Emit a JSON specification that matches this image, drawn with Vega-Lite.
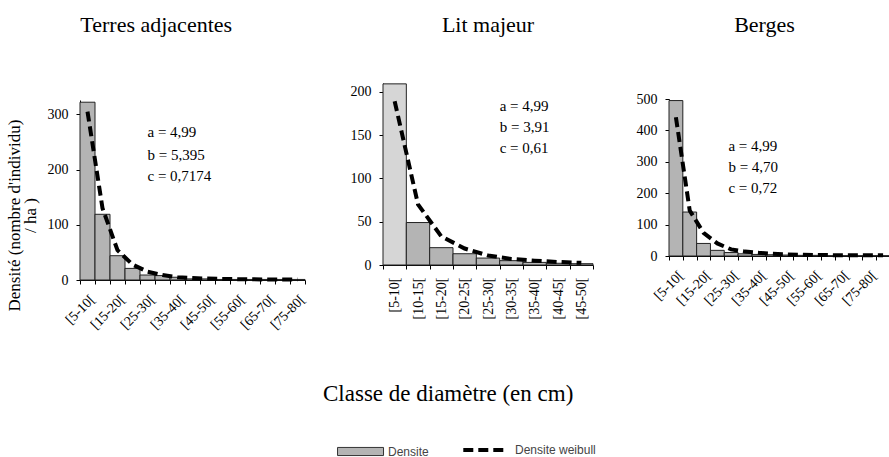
{
  "$schema": "https://vega.github.io/schema/vega-lite/v6.json",
  "background": "white",
  "padding": {"left": 5, "top": 14, "right": 0, "bottom": 0},
  "config": {
    "font": "Liberation Serif",
    "view": {"stroke": null},
    "axis": {"domainColor": "black", "tickColor": "black", "labelColor": "black", "labelFont": "Liberation Serif", "labelFontSize": 14, "grid": false, "tickSize": 4, "labelPadding": 8, "labelOverlap": false, "titleFont": "Liberation Serif", "titleFontWeight": "normal", "titleColor": "black"},
    "title": {"font": "Liberation Serif", "fontSize": 22, "fontWeight": "normal", "color": "black"},
    "legend": {"labelFont": "Liberation Sans", "labelFontSize": 12, "labelColor": "#444"}
  },
  "spacing": 42,
  "datasets": {
    "terres": [
      {"classe": "[5-10[", "densite": 322, "weibull": 305},
      {"classe": "[10-15[", "densite": 119, "weibull": 130},
      {"classe": "[15-20[", "densite": 44, "weibull": 54},
      {"classe": "[20-25[", "densite": 21, "weibull": 28},
      {"classe": "[25-30[", "densite": 9, "weibull": 15},
      {"classe": "[30-35[", "densite": 8, "weibull": 9},
      {"classe": "[35-40[", "densite": 5, "weibull": 5},
      {"classe": "[40-45[", "densite": 2, "weibull": 3.5},
      {"classe": "[45-50[", "densite": 2, "weibull": 2.5},
      {"classe": "[50-55[", "densite": 1, "weibull": 2},
      {"classe": "[55-60[", "densite": 1, "weibull": 1.5},
      {"classe": "[60-65[", "densite": 1, "weibull": 1.2},
      {"classe": "[65-70[", "densite": 1, "weibull": 1},
      {"classe": "[70-75[", "densite": 1, "weibull": 0.8},
      {"classe": "[75-80[", "densite": 1, "weibull": 0.7}
    ],
    "lit": [
      {"classe": "[5-10[", "densite": 209, "weibull": 189},
      {"classe": "[10-15[", "densite": 49, "weibull": 70},
      {"classe": "[15-20[", "densite": 20, "weibull": 33},
      {"classe": "[20-25[", "densite": 13, "weibull": 19},
      {"classe": "[25-30[", "densite": 8, "weibull": 11},
      {"classe": "[30-35[", "densite": 5, "weibull": 7},
      {"classe": "[35-40[", "densite": 3, "weibull": 5},
      {"classe": "[40-45[", "densite": 2, "weibull": 3.5},
      {"classe": "[45-50[", "densite": 1.5, "weibull": 2.5}
    ],
    "berges": [
      {"classe": "[5-10[", "densite": 495, "weibull": 442},
      {"classe": "[10-15[", "densite": 140, "weibull": 145},
      {"classe": "[15-20[", "densite": 40, "weibull": 74},
      {"classe": "[20-25[", "densite": 18, "weibull": 40},
      {"classe": "[25-30[", "densite": 11, "weibull": 21},
      {"classe": "[30-35[", "densite": 7, "weibull": 14},
      {"classe": "[35-40[", "densite": 5, "weibull": 10},
      {"classe": "[40-45[", "densite": 4, "weibull": 7},
      {"classe": "[45-50[", "densite": 3, "weibull": 5},
      {"classe": "[50-55[", "densite": 2, "weibull": 4},
      {"classe": "[55-60[", "densite": 2, "weibull": 3},
      {"classe": "[60-65[", "densite": 1, "weibull": 3},
      {"classe": "[65-70[", "densite": 1, "weibull": 2},
      {"classe": "[70-75[", "densite": 1, "weibull": 2},
      {"classe": "[75-80[", "densite": 1, "weibull": 2},
      {"classe": "[80-85[", "densite": 1, "weibull": 2}
    ],
    "ann_terres": [
      {"classe": "[25-30[", "y": 268, "label": "a = 4,99"},
      {"classe": "[25-30[", "y": 226, "label": "b = 5,395"},
      {"classe": "[25-30[", "y": 188, "label": "c = 0,7174"}
    ],
    "ann_lit": [
      {"classe": "[30-35[", "y": 183, "label": "a = 4,99"},
      {"classe": "[30-35[", "y": 159, "label": "b = 3,91"},
      {"classe": "[30-35[", "y": 135, "label": "c = 0,61"}
    ],
    "ann_berges": [
      {"classe": "[25-30[", "y": 351, "label": "a = 4,99"},
      {"classe": "[25-30[", "y": 283, "label": "b = 4,70"},
      {"classe": "[25-30[", "y": 217, "label": "c = 0,72"}
    ]
  },
  "hconcat": [
    {
      "width": 225, "height": 197,
      "title": {"text": "Terres adjacentes", "frame": "bounds", "offset": 46},
      "layer": [
        {
          "data": {"name": "terres"},
          "mark": {"type": "bar", "stroke": "#222", "strokeWidth": 1},
          "encoding": {
            "x": {"field": "classe", "type": "ordinal", "sort": null, "scale": {"paddingInner": 0, "paddingOuter": 0, "domain": ["[5-10[", "[10-15[", "[15-20[", "[20-25[", "[25-30[", "[30-35[", "[35-40[", "[40-45[", "[45-50[", "[50-55[", "[55-60[", "[60-65[", "[65-70[", "[70-75[", "[75-80["]}, "axis": {"title": null, "labelAngle": -45, "tickBand": "extent", "labelExpr": "substring(datum.label, indexof(datum.label, '-') - 1, indexof(datum.label, '-')) == '5' ? datum.label : ''"}},
            "y": {"field": "densite", "type": "quantitative", "scale": {"domain": [0, 326], "nice": false, "range": [197, 17]}, "axis": {"values": [0, 100, 200, 300], "labelOverlap": false, "title": ["Densité (nombre d'individu)", "/ ha )"], "titleFontSize": 17, "titleLineHeight": 16, "titleLimit": 400, "titlePadding": 8, "titleY": 132}},
            "fill": {"datum": "Densite", "type": "nominal", "scale": {"range": ["#b4b4b4"]}, "legend": {"title": "Classe de diamètre (en cm)", "titleFont": "Liberation Serif", "titleFontSize": 23, "titleFontWeight": "normal", "titleColor": "black", "titleLimit": 400, "titleAnchor": "start", "titleAlign": "left", "titleBaseline": "top", "titlePadding": 36, "orient": "none", "legendX": 243, "legendY": 300, "symbolType": "M0.56,-0.45H5.67V0.45H0.56Z", "symbolSize": 324, "symbolStrokeColor": "#333", "symbolStrokeWidth": 1, "labelOffset": 46, "padding": 0}}
          }
        },
        {
          "data": {"name": "terres"},
          "mark": {"type": "line", "color": "black", "strokeWidth": 4},
          "encoding": {
            "x": {"field": "classe", "type": "ordinal", "sort": null},
            "y": {"field": "weibull", "type": "quantitative"},
            "strokeDash": {"datum": "Densite weibull", "type": "nominal", "scale": {"range": [[10, 5]]}, "legend": {"title": null, "orient": "none", "legendX": 393, "legendY": 356, "symbolType": "M-2.3,0H2.3", "symbolSize": 324, "symbolStrokeWidth": 4, "symbolStrokeColor": "black", "labelOffset": 20, "padding": 0}}
          }
        },
        {
          "data": {"name": "ann_terres"},
          "mark": {"type": "text", "align": "left", "baseline": "middle", "fontSize": 15, "font": "Liberation Serif", "color": "black"},
          "encoding": {
            "x": {"field": "classe", "type": "ordinal", "bandPosition": 0.5},
            "y": {"field": "y", "type": "quantitative"},
            "text": {"field": "label"}
          }
        }
      ]
    },
    {
      "width": 210, "height": 182,
      "title": {"text": "Lit majeur", "frame": "group", "offset": 46},
      "layer": [
        {
          "data": {"name": "lit"},
          "mark": {"type": "bar", "stroke": "#222", "strokeWidth": 1},
          "encoding": {
            "x": {"field": "classe", "type": "ordinal", "sort": null, "scale": {"paddingInner": 0, "paddingOuter": 0, "domain": ["[5-10[", "[10-15[", "[15-20[", "[20-25[", "[25-30[", "[30-35[", "[35-40[", "[40-45[", "[45-50["]}, "axis": {"title": null, "labelAngle": -90, "tickBand": "extent"}},
            "y": {"field": "densite", "type": "quantitative", "scale": {"domain": [0, 210], "nice": false, "range": [182, 0]}, "axis": {"values": [0, 50, 100, 150, 200], "labelOverlap": false, "title": null}},
            "fill": {"datum": "Densite", "type": "nominal", "condition": {"test": "datum.classe === '[5-10['", "value": "#d6d6d6"}, "legend": {"title": "Classe de diamètre (en cm)", "titleFont": "Liberation Serif", "titleFontSize": 23, "titleFontWeight": "normal", "titleColor": "black", "titleLimit": 400, "titleAnchor": "start", "titleAlign": "left", "titleBaseline": "top", "titlePadding": 36, "orient": "none", "legendX": 243, "legendY": 300, "symbolType": "M0.56,-0.45H5.67V0.45H0.56Z", "symbolSize": 324, "symbolStrokeColor": "#333", "symbolStrokeWidth": 1, "labelOffset": 46, "padding": 0}}
          }
        },
        {
          "data": {"name": "lit"},
          "mark": {"type": "line", "color": "black", "strokeWidth": 4},
          "encoding": {
            "x": {"field": "classe", "type": "ordinal", "sort": null},
            "y": {"field": "weibull", "type": "quantitative"},
            "strokeDash": {"datum": "Densite weibull", "type": "nominal", "legend": {"title": null, "orient": "none", "legendX": 393, "legendY": 356, "symbolType": "M-2.3,0H2.3", "symbolSize": 324, "symbolStrokeWidth": 4, "symbolStrokeColor": "black", "labelOffset": 20, "padding": 0}}
          }
        },
        {
          "data": {"name": "ann_lit"},
          "mark": {"type": "text", "align": "left", "baseline": "middle", "fontSize": 15, "font": "Liberation Serif", "color": "black"},
          "encoding": {
            "x": {"field": "classe", "type": "ordinal", "bandPosition": 0},
            "y": {"field": "y", "type": "quantitative"},
            "text": {"field": "label"}
          }
        }
      ]
    },
    {
      "width": 221, "height": 173,
      "title": {"text": "Berges", "frame": "bounds", "offset": 46},
      "layer": [
        {
          "data": {"name": "berges"},
          "mark": {"type": "bar", "stroke": "#222", "strokeWidth": 1},
          "encoding": {
            "x": {"field": "classe", "type": "ordinal", "sort": null, "scale": {"paddingInner": 0, "paddingOuter": 0, "domain": ["[5-10[", "[10-15[", "[15-20[", "[20-25[", "[25-30[", "[30-35[", "[35-40[", "[40-45[", "[45-50[", "[50-55[", "[55-60[", "[60-65[", "[65-70[", "[70-75[", "[75-80[", "[80-85["]}, "axis": {"title": null, "labelAngle": -45, "tickBand": "extent", "labelExpr": "substring(datum.label, indexof(datum.label, '-') - 1, indexof(datum.label, '-')) == '5' ? datum.label : ''"}},
            "y": {"field": "densite", "type": "quantitative", "scale": {"domain": [0, 500], "nice": false, "range": [173, 16]}, "axis": {"values": [0, 100, 200, 300, 400, 500], "tickCount": 6, "labelOverlap": false, "labelFlush": false, "title": null}},
            "fill": {"datum": "Densite", "type": "nominal", "legend": {"title": "Classe de diamètre (en cm)", "titleFont": "Liberation Serif", "titleFontSize": 23, "titleFontWeight": "normal", "titleColor": "black", "titleLimit": 400, "titleAnchor": "start", "titleAlign": "left", "titleBaseline": "top", "titlePadding": 36, "orient": "none", "legendX": 243, "legendY": 300, "symbolType": "M0.56,-0.45H5.67V0.45H0.56Z", "symbolSize": 324, "symbolStrokeColor": "#333", "symbolStrokeWidth": 1, "labelOffset": 46, "padding": 0}}
          }
        },
        {
          "data": {"name": "berges"},
          "mark": {"type": "line", "color": "black", "strokeWidth": 4},
          "encoding": {
            "x": {"field": "classe", "type": "ordinal", "sort": null},
            "y": {"field": "weibull", "type": "quantitative", "axis": {"values": [0, 100, 200, 300, 400, 500], "tickCount": 6, "labelOverlap": false, "labelFlush": false, "title": null}},
            "strokeDash": {"datum": "Densite weibull", "type": "nominal", "legend": {"title": null, "orient": "none", "legendX": 393, "legendY": 356, "symbolType": "M-2.3,0H2.3", "symbolSize": 324, "symbolStrokeWidth": 4, "symbolStrokeColor": "black", "labelOffset": 20, "padding": 0}}
          }
        },
        {
          "data": {"name": "ann_berges"},
          "mark": {"type": "text", "align": "left", "baseline": "middle", "fontSize": 15, "font": "Liberation Serif", "color": "black"},
          "encoding": {
            "x": {"field": "classe", "type": "ordinal", "bandPosition": 0.3},
            "y": {"field": "y", "type": "quantitative", "axis": {"values": [0, 100, 200, 300, 400, 500], "tickCount": 6, "labelOverlap": false, "labelFlush": false, "title": null}},
            "text": {"field": "label"}
          }
        }
      ]
    }
  ],
  "resolve": {"scale": {"x": "independent", "y": "independent"}}
}
